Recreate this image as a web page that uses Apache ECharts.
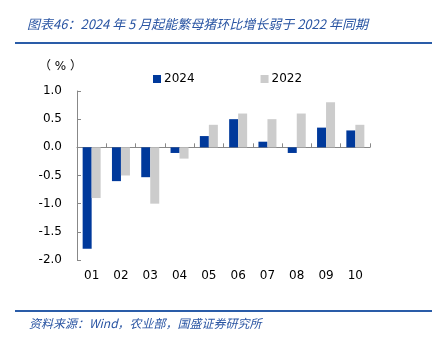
<!DOCTYPE html>
<html><head><meta charset="utf-8">
<script src="https://cdn.jsdelivr.net/npm/echarts@6/dist/echarts.min.js"></script>
<style>html,body{margin:0;padding:0;background:#fff}#c{width:438px;height:337px}</style>
</head><body><div id="c"></div>
<script>
const categories = ['01','02','03','04','05','06','07','08','09','10'];
const s2024 = [-1.8,-0.6,-0.53,-0.1,0.2,0.5,0.1,-0.1,0.35,0.3];
const s2022 = [-0.9,-0.5,-1.0,-0.2,0.4,0.6,0.5,0.6,0.8,0.4];
const yTicks = {min:-2, max:1, interval:0.5};
const titleText = '图表46：2024 年 5 月起能繁母猪环比增长弱于 2022 年同期';
const sourceText = '资料来源：Wind，农业部，国盛证券研究所';

const chart = echarts.init(document.getElementById('c'));
const font = 'Verdana, "DejaVu Sans", "Noto Sans CJK SC", sans-serif';
chart.setOption({
  animation:false,
  title:[
    {text:titleText,left:22,top:13,textStyle:{fontSize:13,fontStyle:'italic',fontWeight:'normal',color:'#2a55a3',fontFamily:'"Noto Sans CJK SC", sans-serif'}},
    {text:sourceText,left:24,top:312,textStyle:{fontSize:12,fontStyle:'italic',fontWeight:'normal',color:'#2a55a3',fontFamily:'"Noto Sans CJK SC", sans-serif'}},
    {text:'（ % ）',left:34,top:56,textStyle:{fontSize:12,fontWeight:'normal',color:'#000',fontFamily:font}}
  ],
  graphic:[
    {type:'rect',shape:{x:15,y:42,width:417,height:2},style:{fill:'#2a5ca8'}},
    {type:'rect',shape:{x:15,y:310,width:417,height:2},style:{fill:'#2a5ca8'}}
  ],
  legend:{
    top:68,left:148,itemGap:66,itemWidth:8,itemHeight:8,icon:'rect',
    textStyle:{fontSize:12,color:'#000',fontFamily:font,padding:[0,0,0,-2]},
    data:['2024','2022']
  },
  grid:{left:77,right:68,top:91,bottom:77},
  xAxis:[
    {type:'category',data:categories,
     axisLine:{onZero:true,lineStyle:{color:'#888',width:1}},
     axisTick:{show:true,inside:true,length:4,lineStyle:{color:'#888'}},
     axisLabel:{show:false}},
    {type:'category',data:categories,position:'bottom',
     axisLine:{show:false},axisTick:{show:false},
     axisLabel:{fontSize:12,color:'#000',fontFamily:font,margin:10}}
  ],
  yAxis:{type:'value',min:yTicks.min,max:yTicks.max,interval:yTicks.interval,
    axisLine:{show:true,lineStyle:{color:'#888'}},
    axisTick:{show:true,inside:true,length:4,lineStyle:{color:'#888'}},
    splitLine:{show:false},
    axisLabel:{fontSize:12,color:'#000',fontFamily:font,margin:15,formatter:v=>v.toFixed(1)}},
  series:[
    {name:'2024',type:'bar',data:s2024,barWidth:9,barGap:'0%',itemStyle:{color:'#00399b'}},
    {name:'2022',type:'bar',data:s2022,barWidth:9,barGap:'0%',itemStyle:{color:'#cccccc'}}
  ]
});
</script></body></html>
